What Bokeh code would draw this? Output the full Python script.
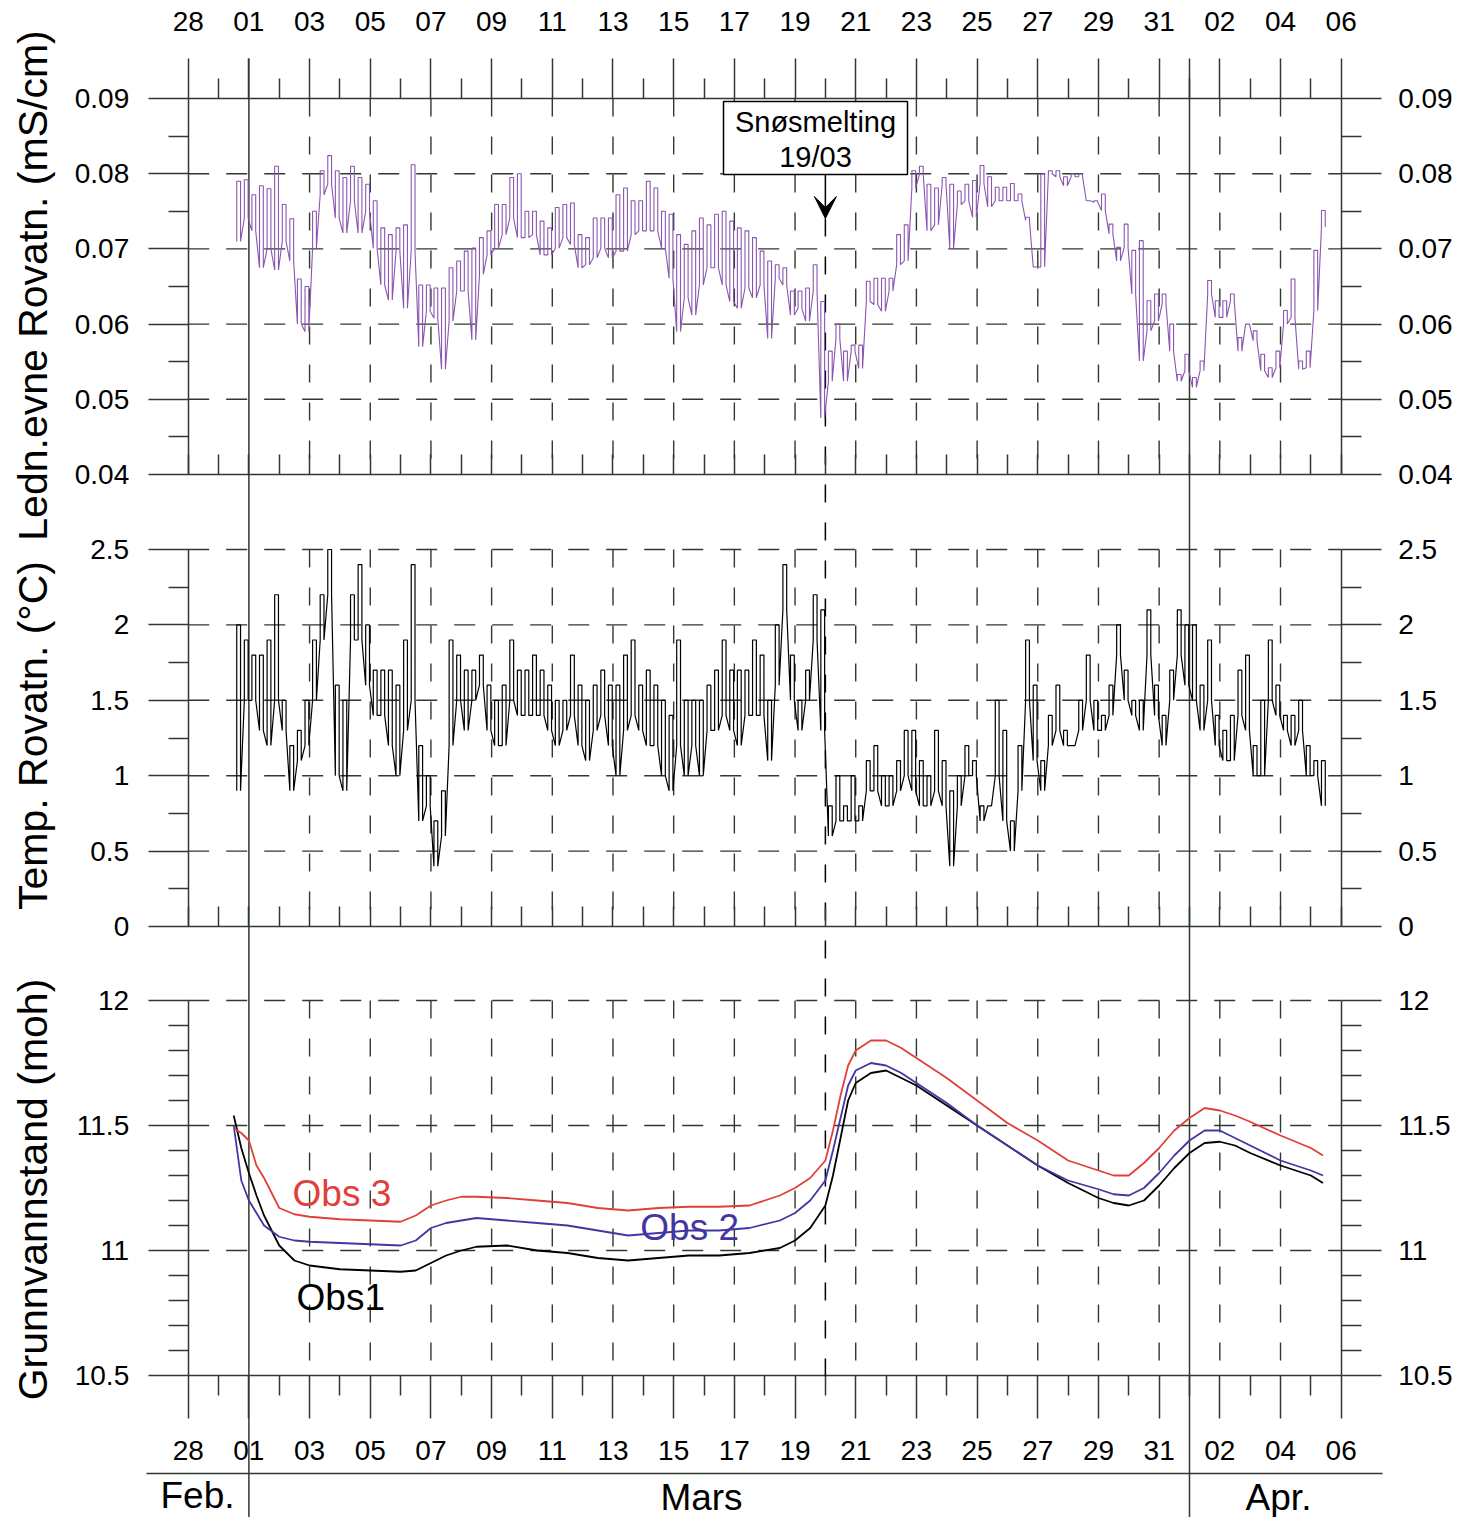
import numpy as np
from bokeh.plotting import figure
from bokeh.models import Range1d, LinearAxis, FixedTicker, Arrow, VeeHead
from bokeh.core.properties import value
from bokeh.embed import file_html
from bokeh.resources import INLINE

# ---------------- data ----------------
# x = days after 28 Feb (leap year: 29 Feb = 1, 1 Mar = 2, 1 Apr = 33)
day_ticks = list(range(0, 39, 2))
day_labels = ["28", "01", "03", "05", "07", "09", "11", "13", "15", "17",
              "19", "21", "23", "25", "27", "29", "31", "02", "04", "06"]
minor_days = list(range(1, 38, 2))
month_starts = [2, 33]
month_names = ["Feb.", "Mars", "Apr."]
snow_day = 21.0
snow_text = ["Snøsmelting", "19/03"]

cond_ticks = [0.04, 0.05, 0.06, 0.07, 0.08, 0.09]
cond_tick_labels = ["0.04", "0.05", "0.06", "0.07", "0.08", "0.09"]
cond_minor = [0.045, 0.055, 0.065, 0.075, 0.085]
temp_ticks = [0.0, 0.5, 1.0, 1.5, 2.0, 2.5]
temp_tick_labels = ["0", "0.5", "1", "1.5", "2", "2.5"]
temp_minor = [0.25, 0.75, 1.25, 1.75, 2.25]
gw_ticks = [10.5, 11.0, 11.5, 12.0]
gw_tick_labels = ["10.5", "11", "11.5", "12"]
gw_minor = [10.6, 10.7, 10.8, 10.9, 11.1, 11.2, 11.3, 11.4, 11.6, 11.7, 11.8, 11.9]

title_cond = "Ledn.evne Rovatn. (mS/cm)"
title_temp = "Temp. Rovatn. (°C)"
title_gw = "Grunnvannstand (moh)"

# logger samples every 6 h from day 1.6; upper / lower value in each interval
sample_start, sample_step = 1.6, 0.25
cond_hi_uS = [79.0, 79.2, 77.2, 78.4, 78.0, 81.0, 75.9, 74.0, 66.0, 65.0,
              75.0, 80.4, 82.4, 80.4, 79.5, 81.0, 79.5, 78.6, 76.4, 72.8,
              71.9, 72.8, 73.2, 81.2, 65.2, 65.2, 64.8, 64.8, 67.5, 68.4,
              69.7, 70.1, 71.5, 72.4, 75.9, 75.9, 79.5, 80.0, 75.0, 75.0,
              73.7, 72.8, 75.5, 75.9, 76.1, 71.9, 71.5, 74.1, 74.1, 74.1,
              77.2, 78.1, 76.4, 76.4, 79.0, 78.1, 75.0, 74.6, 71.9, 70.6,
              72.4, 74.1, 73.2, 74.6, 75.0, 73.7, 72.8, 72.4, 71.5, 69.7,
              68.4, 67.9, 67.5, 64.4, 64.4, 64.8, 67.9, 63.0, 56.4, 60.0,
              56.4, 57.2, 57.2, 65.7, 66.1, 66.1, 66.1, 71.9, 73.2, 80.4,
              81.0, 78.6, 78.1, 79.5, 78.6, 77.7, 78.6, 79.1, 81.1, 79.6,
              78.2, 78.2, 78.7, 77.3, 74.2, 67.6, 80.0, 80.4, 80.4, 79.6,
              80.0, 80.0, 76.4, 76.4, 77.3, 73.3, 70.2, 73.3, 69.8, 71.1,
              63.1, 64.0, 64.0, 60.0, 53.3, 56.0, 52.9, 55.1, 65.8, 63.1,
              63.1, 64.0, 58.2, 60.0, 59.1, 56.0, 54.2, 56.4, 61.8, 66.0,
              55.1, 56.4, 69.8, 75.1]
cond_lo_uS = [71.0, 74.1, 72.4, 67.5, 70.0, 67.2, 71.0, 68.4, 60.0, 59.0,
              70.1, 77.2, 78.6, 74.1, 72.1, 76.4, 72.1, 75.0, 70.1, 65.2,
              63.2, 69.7, 62.1, 69.7, 57.0, 61.7, 60.8, 54.0, 60.4, 64.4,
              64.4, 57.9, 66.6, 69.2, 70.1, 71.9, 74.1, 71.5, 71.5, 71.9,
              69.2, 69.2, 70.1, 71.5, 70.6, 67.5, 67.9, 68.8, 70.1, 68.8,
              69.7, 69.7, 71.9, 72.4, 72.4, 72.4, 70.1, 66.1, 59.0, 63.5,
              61.2, 65.2, 67.5, 67.5, 65.2, 63.0, 62.1, 64.8, 63.5, 65.2,
              58.1, 66.1, 65.2, 61.2, 62.1, 60.4, 64.4, 47.5, 52.4, 58.1,
              52.4, 56.4, 54.1, 63.0, 62.6, 61.7, 64.4, 67.9, 68.4, 78.1,
              79.9, 72.4, 73.2, 78.6, 70.1, 75.9, 76.4, 74.2, 78.7, 75.6,
              76.4, 76.4, 76.4, 76.4, 73.8, 67.6, 67.6, 80.0, 79.6, 78.4,
              79.6, 79.6, 76.4, 76.2, 75.1, 72.0, 68.4, 70.2, 64.0, 55.1,
              59.1, 60.4, 62.7, 56.4, 52.4, 53.8, 51.6, 53.8, 64.0, 60.9,
              60.9, 63.1, 56.4, 60.0, 57.8, 53.8, 52.9, 54.2, 60.0, 60.9,
              54.0, 54.2, 61.8, 72.9]
temp_hi = [2.0, 1.9, 1.8, 1.8, 1.9, 2.2, 1.5, 1.2, 1.3, 1.5,
           1.9, 2.2, 2.5, 1.6, 1.5, 2.2, 2.4, 2.0, 1.7, 1.7,
           1.7, 1.6, 1.9, 2.4, 1.2, 1.0, 0.7, 0.9, 1.9, 1.8,
           1.7, 1.7, 1.8, 1.6, 1.5, 1.6, 1.9, 1.7, 1.7, 1.8,
           1.7, 1.6, 1.5, 1.5, 1.8, 1.6, 1.5, 1.6, 1.7, 1.6,
           1.6, 1.8, 1.9, 1.6, 1.7, 1.6, 1.5, 1.4, 1.9, 1.5,
           1.5, 1.5, 1.6, 1.7, 1.9, 1.7, 1.7, 1.7, 1.9, 1.8,
           1.5, 2.0, 2.4, 1.8, 1.5, 1.7, 2.2, 2.1, 0.8, 1.0,
           0.8, 1.0, 0.8, 1.1, 1.2, 1.0, 1.0, 1.1, 1.3, 1.3,
           1.1, 1.0, 1.3, 1.1, 0.9, 1.0, 1.2, 1.1, 0.8, 0.8,
           1.5, 1.3, 0.7, 1.2, 1.9, 1.6, 1.1, 1.4, 1.6, 1.3,
           1.2, 1.5, 1.8, 1.5, 1.4, 1.6, 2.0, 1.7, 1.5, 1.5,
           2.1, 1.6, 1.4, 1.7, 2.1, 2.0, 2.0, 1.6, 1.9, 1.4,
           1.3, 1.4, 1.7, 1.8, 1.2, 1.5, 1.9, 1.6, 1.4, 1.4,
           1.5, 1.2, 1.1, 1.1]
temp_lo = [0.9, 1.5, 1.5, 1.3, 1.2, 1.5, 1.3, 0.9, 1.1, 1.2,
           1.5, 1.9, 2.2, 1.0, 0.9, 1.9, 1.9, 1.6, 1.4, 1.4,
           1.2, 1.0, 1.3, 1.5, 0.7, 0.8, 0.4, 0.6, 1.2, 1.5,
           1.3, 1.5, 1.6, 1.3, 1.2, 1.2, 1.5, 1.4, 1.4, 1.4,
           1.4, 1.3, 1.2, 1.3, 1.4, 1.2, 1.1, 1.3, 1.4, 1.2,
           1.0, 1.3, 1.4, 1.3, 1.2, 1.2, 1.0, 0.9, 1.2, 1.0,
           1.2, 1.0, 1.3, 1.3, 1.4, 1.3, 1.2, 1.4, 1.4, 1.4,
           1.1, 1.6, 2.1, 1.5, 1.3, 1.5, 1.9, 1.3, 0.6, 0.7,
           0.7, 0.7, 0.7, 0.9, 0.9, 0.8, 0.8, 0.9, 1.0, 0.9,
           0.8, 0.8, 0.9, 0.8, 0.4, 0.8, 1.0, 1.0, 0.7, 0.8,
           1.0, 0.7, 0.5, 0.9, 1.5, 1.1, 0.9, 1.2, 1.3, 1.2,
           1.2, 1.3, 1.5, 1.3, 1.3, 1.4, 1.8, 1.5, 1.4, 1.3,
           1.8, 1.4, 1.2, 1.5, 1.8, 1.6, 1.5, 1.3, 1.5, 1.2,
           1.1, 1.1, 1.4, 1.3, 1.0, 1.0, 1.5, 1.4, 1.3, 1.2,
           1.3, 1.0, 1.0, 0.8]

gw_day = [1.5, 1.75, 2.0, 2.25, 2.5, 3.0, 3.5, 4.0, 5.0, 6.0, 7.0, 7.5, 8.0, 8.5,
          9.0, 9.5, 10.5, 11.5, 12.5, 13.5, 14.5, 15.5, 16.5, 17.5, 18.5, 19.5,
          20.0, 20.5, 21.0, 21.25, 21.5, 21.75, 22.0, 22.5, 23.0, 23.5, 24.0,
          25.0, 26.0, 27.0, 28.0, 29.0, 30.0, 30.5, 31.0, 31.5, 32.0, 32.5,
          33.0, 33.5, 34.0, 34.5, 35.0, 36.0, 37.0, 37.4]
obs1 = [11.54, 11.41, 11.31, 11.22, 11.14, 11.02, 10.96, 10.94, 10.925, 10.92,
        10.915, 10.92, 10.95, 10.98, 11.0, 11.015, 11.02, 11.0, 10.99, 10.97,
        10.96, 10.97, 10.98, 10.98, 10.99, 11.01, 11.04, 11.09, 11.18, 11.3,
        11.45, 11.6, 11.67, 11.71, 11.72, 11.69, 11.66, 11.58, 11.5, 11.42,
        11.34, 11.27, 11.21, 11.19, 11.18, 11.2, 11.26, 11.33, 11.39, 11.43,
        11.435, 11.42, 11.39, 11.34, 11.3, 11.27]
obs2 = [11.5, 11.28, 11.2, 11.15, 11.1, 11.055, 11.04, 11.035, 11.03, 11.025,
        11.02, 11.04, 11.09, 11.11, 11.12, 11.13, 11.12, 11.11, 11.1, 11.08,
        11.06, 11.07, 11.08, 11.08, 11.09, 11.12, 11.15, 11.2, 11.28, 11.4,
        11.53, 11.66, 11.72, 11.75, 11.74, 11.71, 11.67, 11.59, 11.5, 11.42,
        11.34, 11.28, 11.245, 11.225, 11.22, 11.25, 11.31, 11.38, 11.44, 11.48,
        11.48, 11.45, 11.42, 11.36, 11.32, 11.3]
obs3 = [11.49, 11.47, 11.44, 11.34, 11.29, 11.17, 11.145, 11.135, 11.125, 11.12,
        11.115, 11.14, 11.18, 11.2, 11.215, 11.215, 11.21, 11.2, 11.19, 11.17,
        11.16, 11.17, 11.175, 11.175, 11.18, 11.22, 11.25, 11.29, 11.36, 11.48,
        11.62, 11.74, 11.8, 11.84, 11.84, 11.81, 11.77, 11.69, 11.6, 11.51,
        11.44, 11.36, 11.32, 11.3, 11.3, 11.35, 11.41, 11.48, 11.53, 11.57,
        11.56, 11.54, 11.515, 11.46, 11.41, 11.38]
obs_names = ["Obs1", "Obs 2", "Obs 3"]

# ---------------- layout / style ----------------
W, H = 1462, 1517
X_DAY0, PX_PER_DAY = 187.7, 30.342
PANEL = {"default": (0.09, 98, 0.04, 474),
         "temp": (2.5, 549, 0.0, 926),
         "gw": (12.0, 1000, 10.5, 1375)}
LINE = "#2d3a2d"
FONT = "Liberation Sans"
C_COND = "#8a56b0"
C_OBS = ["black", "#4236a3", "#e0403a"]


def yrange(vt, yt, vb, yb):
    s = (vt - vb) / (yb - yt)
    return Range1d(start=vt - (H - yt) * s, end=vt + yt * s)


xr = Range1d(start=-X_DAY0 / PX_PER_DAY, end=(W - X_DAY0) / PX_PER_DAY)
p = figure(width=W, height=H, x_range=xr, y_range=yrange(*PANEL["default"]),
           x_axis_location=None, y_axis_location=None, toolbar_location=None,
           output_backend="svg", min_border=0, title=None,
           outline_line_color=None, background_fill_color="white",
           border_fill_color="white")
p.grid.visible = False
p.extra_y_ranges = {"temp": yrange(*PANEL["temp"]), "gw": yrange(*PANEL["gw"]),
                    "page": Range1d(start=H, end=0)}
p.extra_x_ranges = {"px": Range1d(start=0, end=W)}

panels = [("default", cond_ticks, cond_tick_labels, cond_minor, True),
          ("temp", temp_ticks, temp_tick_labels, temp_minor, False),
          ("gw", gw_ticks, gw_tick_labels, gw_minor, False)]

x_first, x_last = day_ticks[0], day_ticks[-1]
v_days = [d for d in day_ticks if d not in (x_first, x_last) and d not in month_starts]

# grid lines inside each panel
for rng, ticks, labels, minor, top_solid in panels:
    lo, hi = min(ticks), max(ticks)
    solid = [lo] + ([hi] if top_solid else [])
    dashed = [t for t in ticks if t not in solid]
    p.segment(x0=x_first, x1=x_last, y0=dashed, y1=dashed, y_range_name=rng,
              line_color=LINE, line_width=1.4, line_dash="21 17")
    p.segment(x0=x_first, x1=x_last, y0=solid, y1=solid, y_range_name=rng,
              line_color=LINE, line_width=1.5)
    p.segment(x0=v_days, x1=v_days, y0=hi, y1=lo, y_range_name=rng,
              line_color=LINE, line_width=1.4, line_dash="18 20")

# month boundaries and bottom rule
p.segment(x0=month_starts, x1=month_starts, y0=58, y1=H, y_range_name="page",
          line_color=LINE, line_width=1.5)
p.segment(x0=[146], x1=[1382], y0=[1473], y1=[1473], x_range_name="px",
          y_range_name="page", line_color=LINE, line_width=1.5)

# snowmelt marker
p.segment(x0=[snow_day], x1=[snow_day], y0=[218], y1=[1395], y_range_name="page",
          line_color="black", line_width=1.5, line_dash="18 20")


def band_trace(t, lo, hi, half):
    """Trace each sampled interval as strokes from its low to its high value."""
    xs, ys = [], []
    for tt, l, h in zip(t, lo, hi):
        xs += [tt, tt, tt + half, tt + half]
        ys += [l, h, h, l]
    return xs, ys


t_cond = [sample_start + sample_step * i for i in range(len(cond_hi_uS))]
cx, cy = band_trace(t_cond, [v / 1000 for v in cond_lo_uS],
                    [v / 1000 for v in cond_hi_uS], sample_step / 2)
p.line(cx, cy, line_color=C_COND, line_width=1.1)

t_temp = [sample_start + sample_step * i for i in range(len(temp_hi))]
tx, ty = band_trace(t_temp, temp_lo, temp_hi, sample_step / 2)
p.line(tx, ty, y_range_name="temp", line_color="black", line_width=1.2)

for series, col in zip([obs1, obs2, obs3], C_OBS):
    p.line(gw_day, series, y_range_name="gw", line_color=col, line_width=1.8)

# annotation box
p.quad(left=[723], right=[907], top=[101], bottom=[174], x_range_name="px",
       y_range_name="page", fill_color="white", line_color="black", line_width=1.5)
p.text(x=[815, 815], y=[121, 156], text=snow_text, x_range_name="px", y_range_name="page",
       text_align="center", text_baseline="middle", text_font=value(FONT),
       text_font_size="29px", text_color="black")
p.add_layout(Arrow(x_start=snow_day, y_start=174, x_end=snow_day, y_end=218,
                   y_range_name="page", line_color="black", line_width=1.5,
                   end=VeeHead(size=22, fill_color="black", line_color="black")))

# series labels
p.text(x=[3.57, 14.9, 3.44], y=[10.812, 11.092, 11.228], text=obs_names,
       y_range_name="gw", text_color=C_OBS, text_align="left", text_baseline="middle",
       text_font=value(FONT), text_font_size="37px")

# axis titles
p.text(x=[32, 32, 32], y=[285, 735, 1189], text=[title_cond, title_temp, title_gw],
       angle=np.pi / 2, x_range_name="px", y_range_name="page", text_align="center",
       text_baseline="middle", text_font=value(FONT), text_font_size="41px",
       text_color="black")

# month names
p.text(x=[197, 701, 1278], y=[1495, 1497, 1497], text=month_names, x_range_name="px",
       y_range_name="page", text_align="center", text_baseline="middle",
       text_font=value(FONT), text_font_size="37px", text_color="black")


def style(ax, size="28px"):
    ax.axis_line_color = LINE
    ax.axis_line_width = 1.5
    ax.major_tick_line_color = LINE
    ax.major_tick_line_width = 1.5
    ax.minor_tick_line_color = LINE
    ax.minor_tick_line_width = 1.5
    ax.major_label_text_font = FONT
    ax.major_label_text_font_size = size
    ax.major_label_text_color = "black"
    return ax


# date axes
top = style(LinearAxis(y_range_name="default", fixed_location=max(cond_ticks),
                       ticker=FixedTicker(ticks=day_ticks, minor_ticks=minor_days),
                       major_label_overrides=dict(zip(day_ticks, day_labels)),
                       major_tick_out=40, major_tick_in=0, minor_tick_out=20,
                       minor_tick_in=0, major_label_standoff=28))
top.axis_line_color = None
p.add_layout(top, "above")

bot = style(LinearAxis(y_range_name="gw", fixed_location=min(gw_ticks),
                       ticker=FixedTicker(ticks=day_ticks, minor_ticks=minor_days),
                       major_label_overrides=dict(zip(day_ticks, day_labels)),
                       major_tick_out=43, major_tick_in=0, minor_tick_out=20,
                       minor_tick_in=0, major_label_standoff=22))
bot.axis_line_color = None
p.add_layout(bot, "below")

for rng, ticks in [("default", cond_ticks), ("temp", temp_ticks)]:
    inner = style(LinearAxis(y_range_name=rng, fixed_location=min(ticks),
                             ticker=FixedTicker(ticks=day_ticks, minor_ticks=minor_days),
                             major_label_overrides={d: "" for d in day_ticks},
                             major_tick_out=0, major_tick_in=20, minor_tick_out=0,
                             minor_tick_in=20))
    inner.axis_line_color = None
    p.add_layout(inner, "below")

# value axes, left and right of each panel
for rng, ticks, labels, minor, _ in panels:
    for side, loc, standoff in [("left", x_first, 19), ("right", x_last, 17)]:
        ax = style(LinearAxis(y_range_name=rng, fixed_location=loc,
                              bounds=(min(ticks), max(ticks)),
                              ticker=FixedTicker(ticks=ticks, minor_ticks=minor),
                              major_label_overrides=dict(zip(ticks, labels)),
                              major_tick_out=40, major_tick_in=0, minor_tick_out=20,
                              minor_tick_in=0, major_label_standoff=standoff))
        p.add_layout(ax, side)

open("out.html", "w").write(file_html(p, INLINE))
